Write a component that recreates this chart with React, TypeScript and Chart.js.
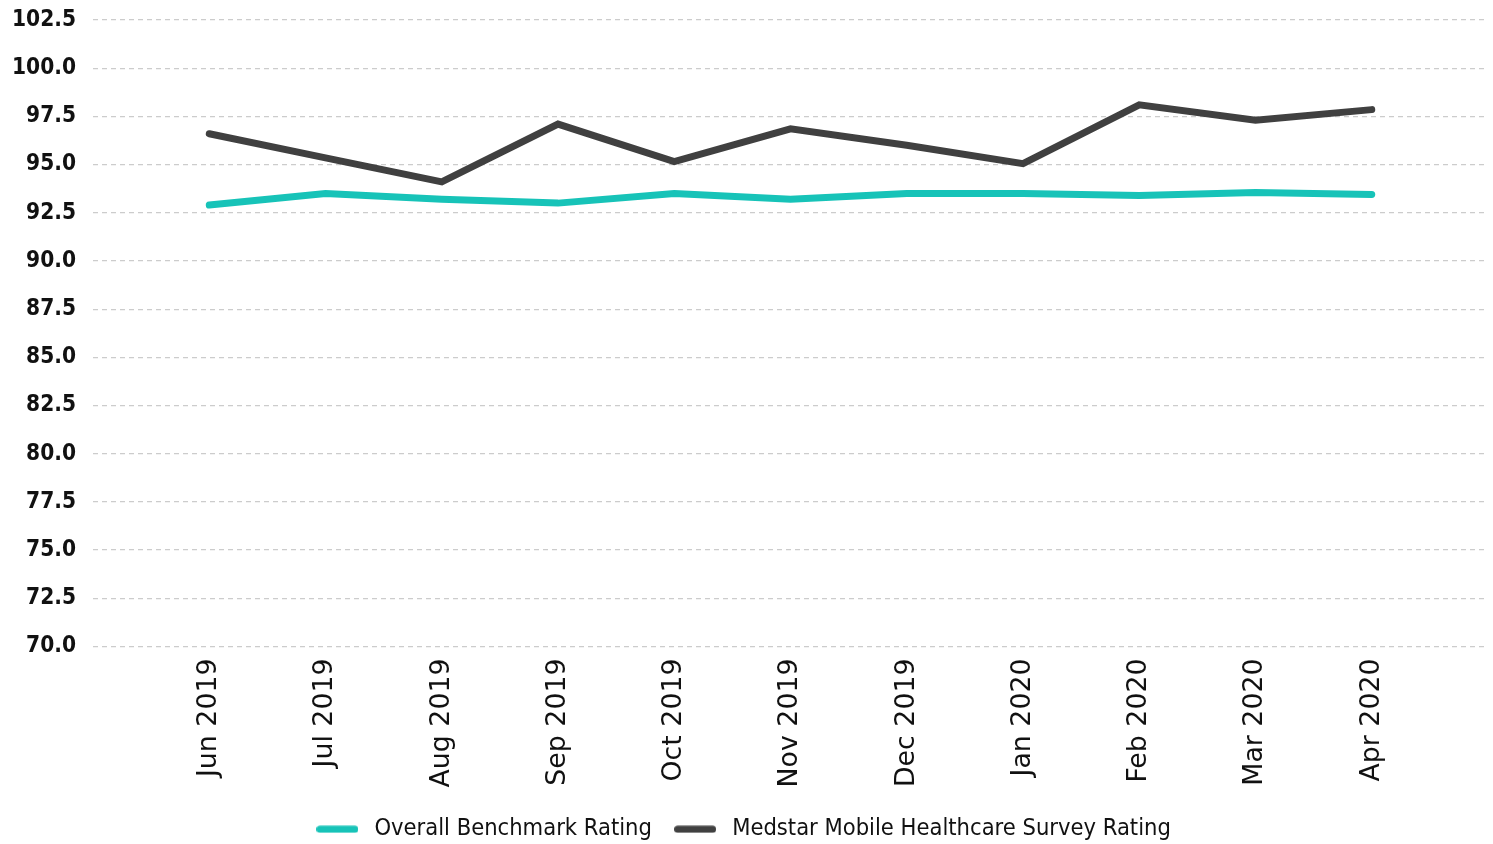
import React, { useEffect, useRef } from "react";
import { Chart, registerables } from "chart.js";

Chart.register(...registerables);

const months = [
  "Jun 2019", "Jul 2019", "Aug 2019", "Sep 2019", "Oct 2019", "Nov 2019",
  "Dec 2019", "Jan 2020", "Feb 2020", "Mar 2020", "Apr 2020",
];
const benchmark = [92.9, 93.5, 93.2, 93.0, 93.5, 93.2, 93.5, 93.5, 93.4, 93.55, 93.45];
const medstar = [96.6, 95.35, 94.1, 97.1, 95.15, 96.85, 96.0, 95.05, 98.1, 97.3, 97.85];
const seriesNames = ["Overall Benchmark Rating", "Medstar Mobile Healthcare Survey Rating"];
const seriesColors = ["#17c3b8", "#404040"];
const yMin = 70;
const yMax = 102.5;
const yStep = 2.5;

function makeLegendLine(color: string) {
  const c = document.createElement("canvas");
  c.width = 42;
  c.height = 8;
  const ctx = c.getContext("2d")!;
  ctx.strokeStyle = color;
  ctx.lineWidth = 7;
  ctx.lineCap = "round";
  ctx.beginPath();
  ctx.moveTo(3.5, 4);
  ctx.lineTo(38.5, 4);
  ctx.stroke();
  return c;
}

export default function App() {
  const canvasRef = useRef<HTMLCanvasElement | null>(null);

  useEffect(() => {
    if (!canvasRef.current) return;
    const labels = ["", ...months, ""];
    const pad = (arr: number[]) => [null, ...arr, null];
    const legendIcons = seriesColors.map(makeLegendLine);
    const mkDataset = (i: number, values: number[]) => ({
      label: seriesNames[i],
      data: pad(values),
      borderColor: seriesColors[i],
      backgroundColor: seriesColors[i],
      borderWidth: 7,
      borderCapStyle: "round" as const,
      borderJoinStyle: "miter" as const,
      pointRadius: 0,
      pointHoverRadius: 0,
      tension: 0,
    });
    const chart = new Chart(canvasRef.current, {
      type: "line",
      data: {
        labels,
        datasets: [mkDataset(0, benchmark), mkDataset(1, medstar)],
      },
      options: {
        animation: false,
        responsive: true,
        maintainAspectRatio: false,
        layout: { padding: { top: 20, right: 5, left: -5, bottom: -7 } },
        plugins: {
          tooltip: { enabled: false },
          legend: {
            position: "bottom",
            labels: {
              usePointStyle: true,
              pointStyleWidth: 50.5,
              padding: 18,
              color: "#111",
              font: { family: "'DejaVu Sans Condensed', 'DejaVu Sans'", size: 23.5 },
              generateLabels: (ch: any) =>
                Chart.defaults.plugins.legend.labels
                  .generateLabels(ch)
                  .map((l: any, i: number) => ({ ...l, pointStyle: legendIcons[i] })),
            },
          },
        },
        scales: {
          x: {
            grid: { display: false, drawTicks: false },
            border: { display: false },
            afterFit: (s: any) => {
              s.paddingLeft = 0;
              s.paddingRight = 0;
            },
            ticks: {
              autoSkip: false,
              maxRotation: 90,
              minRotation: 90,
              padding: 12,
              color: "#111",
              font: { family: "'DejaVu Sans'", size: 26.8 },
            },
          },
          y: {
            min: yMin,
            max: yMax,
            border: { display: false, dash: [5, 4] },
            grid: { color: "#cccccc", lineWidth: 1.2, drawTicks: false },
            afterFit: (s: any) => {
              s.paddingTop = 0;
              s.paddingBottom = 0;
            },
            ticks: {
              stepSize: yStep,
              padding: 17,
              color: "#111",
              font: { family: "'DejaVu Sans Condensed', 'DejaVu Sans'", size: 22.5, weight: "bold" },
              callback: (v: any) => Number(v).toFixed(1),
            },
          },
        },
      },
    });
    return () => chart.destroy();
  }, []);

  return (
    <div style={{ position: "fixed", left: 0, top: 0, width: 1493, height: 844, background: "#fff" }}>
      <canvas ref={canvasRef} />
    </div>
  );
}
